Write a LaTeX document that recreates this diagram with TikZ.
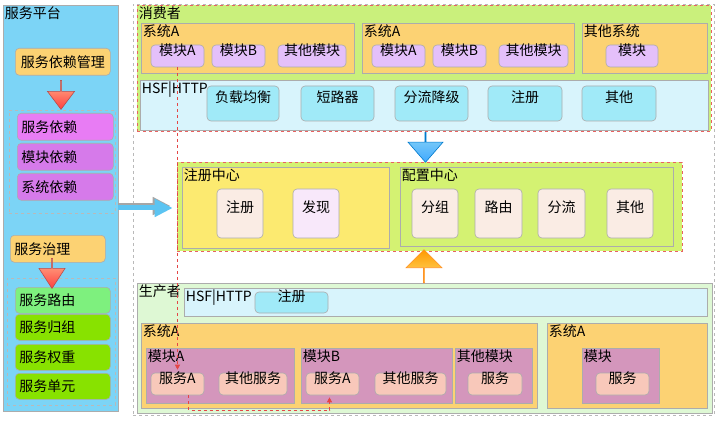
\documentclass[tikz,border=0pt]{standalone}
\usepackage{fontspec}
\setmainfont{Noto Sans CJK SC}
\usetikzlibrary{arrows.meta,positioning,fit,shapes.arrows}

\definecolor{lineGray}{RGB}{172,172,172}
\definecolor{dashGray}{RGB}{185,185,185}
\definecolor{skyPanel}{RGB}{124,212,246}
\definecolor{orangeBox}{RGB}{252,210,115}
\definecolor{magBox}{RGB}{232,124,244}
\definecolor{magBoxB}{RGB}{214,122,234}
\definecolor{mintBox}{RGB}{126,240,126}
\definecolor{limeBox}{RGB}{136,226,0}
\definecolor{consGreen}{RGB}{202,240,124}
\definecolor{ctrGreen}{RGB}{212,242,114}
\definecolor{hsfBlue}{RGB}{216,244,252}
\definecolor{cyanBtn}{RGB}{160,234,248}
\definecolor{lavBox}{RGB}{228,192,250}
\definecolor{regYellow}{RGB}{252,234,112}
\definecolor{peachBox}{RGB}{250,236,228}
\definecolor{lilacBox}{RGB}{248,232,250}
\definecolor{prodGreen}{RGB}{222,248,212}
\definecolor{plumBox}{RGB}{212,150,188}
\definecolor{salmonBox}{RGB}{248,200,186}
\definecolor{dashRed}{RGB}{228,70,70}
\definecolor{arrowBlue}{RGB}{92,196,242}

\newcommand\areabox[7]{\node[#1, fit={(#3,#4) (#5,#6)}] (#2) {#7};}

\begin{document}
\begin{tikzpicture}[
  x=1pt, y=-1pt,
  font=\fontsize{14}{16}\selectfont,
  blk/.style={draw=lineGray, line width=0.6pt, inner sep=0pt},
  btn/.style={blk, rounded corners=4pt},
  ttl/.style={anchor=north west, inner sep=2pt, font=\fontsize{14}{16}\selectfont},
  grp/.style={draw=dashGray, dashed, line width=0.7pt, inner sep=0pt},
  listbox/.style={btn, anchor=north west, inner xsep=4pt, align=left},
  redgrp/.style={draw=dashRed!85, dashed, line width=0.7pt, inner sep=0pt},
  blockarr/.style={single arrow, inner sep=0pt, line width=0.6pt},
  redpath/.style={draw=dashRed, dashed, line width=0.8pt,
    -{Triangle[length=5pt,width=5pt]}},
]
\useasboundingbox (0,0) rectangle (720,422);

% service platform
\areabox{blk, fill=skyPanel, label={[ttl]north west:服务平台}}{plat}{3}{5}{118}{411}{}
\node[listbox, fill=orangeBox, text width=87pt, minimum height=27pt, align=center]
  (depm) at (15,48) {服务依赖管理};
\areabox{grp}{depg}{9}{110}{115}{213}{}
\node[listbox, fill=magBox, text width=88pt, minimum height=27pt] (dsvc) at (17,113) {服务依赖};
\node[listbox, fill=magBoxB, text width=88pt, minimum height=27pt] (dmod) at (17,143) {模块依赖};
\node[listbox, fill=magBoxB, text width=88pt, minimum height=27pt] (dsys) at (17,173) {系统依赖};
\node[blockarr, top color=red!30!orange!45, bottom color=red!75!white, draw=red!60!black!70,
  shape border rotate=270, minimum height=29pt, minimum width=27pt,
  single arrow head extend=7pt, single arrow tip angle=74] (depa) at (61,94.5) {};

\node[listbox, fill=orangeBox, text width=87pt, minimum height=27pt] (gov) at (10,235) {服务治理};
\areabox{grp}{govg}{7}{278}{115}{405}{}
\node[listbox, fill=mintBox, text width=87pt, minimum height=26pt] (groute) at (15,287) {服务路由};
\node[listbox, fill=limeBox, text width=87pt, minimum height=26pt] (ggroup) at (15,314) {服务归组};
\node[listbox, fill=limeBox, text width=87pt, minimum height=26pt] (gweight) at (15,344) {服务权重};
\node[listbox, fill=limeBox, text width=87pt, minimum height=26pt] (gunit) at (15,373) {服务单元};
\node[blockarr, top color=red!30!orange!45, bottom color=red!75!white, draw=red!60!black!70,
  shape border rotate=270, minimum height=30pt, minimum width=26pt,
  single arrow head extend=6.5pt, single arrow tip angle=66] (gova) at (52,273) {};

% right side
\areabox{grp}{rightg}{133}{4}{714}{415}{}

% consumer
\areabox{redgrp, fill=consGreen, label={[ttl]north west:消费者}}{cons}{137}{5}{711}{131}{}
\areabox{blk, fill=orangeBox, label={[ttl]north west:系统A}}{csa}{141}{23}{354}{73}{}
\areabox{btn, fill=lavBox}{csaa}{151}{45}{204}{67}{模块A}
\areabox{btn, fill=lavBox}{csab}{212}{45}{265}{67}{模块B}
\areabox{btn, fill=lavBox}{csac}{278}{45}{346}{67}{其他模块}
\areabox{blk, fill=orangeBox, label={[ttl]north west:系统A}}{csb}{362}{23}{574}{73}{}
\areabox{btn, fill=lavBox}{csba}{372}{45}{425}{67}{模块A}
\areabox{btn, fill=lavBox}{csbb}{433}{45}{486}{67}{模块B}
\areabox{btn, fill=lavBox}{csbc}{499}{45}{568}{67}{其他模块}
\areabox{blk, fill=orangeBox, label={[ttl]north west:其他系统}}{csc}{582}{23}{707}{73}{}
\areabox{btn, fill=lavBox}{csca}{606}{45}{658}{67}{模块}
\areabox{blk, fill=hsfBlue, label={[ttl]north west:HSF|HTTP}}{chsf}{140}{80}{708}{130}{}
\areabox{btn, fill=cyanBtn}{clb}{207}{86}{279}{121}{负载均衡}
\areabox{btn, fill=cyanBtn}{cbrk}{301}{86}{374}{121}{短路器}
\areabox{btn, fill=cyanBtn}{cdeg}{395}{86}{468}{121}{分流降级}
\areabox{btn, fill=cyanBtn}{creg}{488}{86}{562}{121}{注册}
\areabox{btn, fill=cyanBtn}{coth}{582}{86}{656}{121}{其他}

% registry and config
\areabox{redgrp, fill=ctrGreen}{ctr}{177}{162}{682}{251}{}
\areabox{blk, fill=regYellow, label={[ttl]north west:注册中心}}{reg}{182}{167}{389}{248}{}
\areabox{btn, fill=peachBox}{rreg}{217}{189}{263}{238}{注册}
\areabox{btn, fill=lilacBox}{rdisc}{293}{189}{339}{238}{发现}
\areabox{blk, fill=ctrGreen, label={[ttl]north west:配置中心}}{cfg}{400}{167}{673}{246}{}
\areabox{btn, fill=peachBox}{fgrp}{412}{189}{458}{238}{分组}
\areabox{btn, fill=peachBox}{frte}{475}{189}{522}{238}{路由}
\areabox{btn, fill=peachBox}{fspl}{538}{189}{585}{238}{分流}
\areabox{btn, fill=peachBox}{foth}{607}{189}{653}{238}{其他}

\node[blockarr, top color=arrowBlue!70!white, bottom color=blue!45!cyan!75, draw=blue!40!cyan!80!black,
  shape border rotate=270, minimum height=30pt, minimum width=35pt,
  single arrow head extend=10pt, single arrow tip angle=82] (consa) at (425.5,147) {};

% producer
\areabox{blk, fill=prodGreen, label={[ttl]north west:生产者}}{prod}{137}{283}{712}{413}{}
\areabox{blk, fill=hsfBlue, label={[ttl]north west:HSF|HTTP}}{phsf}{184}{288}{707}{316}{}
\areabox{btn, fill=cyanBtn}{preg}{255}{292}{328}{313}{注册}
\areabox{blk, fill=orangeBox, label={[ttl]north west:系统A}}{psa}{141}{323}{537}{408}{}
\areabox{blk, fill=plumBox, label={[ttl]north west:模块A}}{pma}{146}{348}{294}{403}{}
\areabox{btn, fill=salmonBox}{pmaa}{151}{373}{204}{395}{服务A}
\areabox{btn, fill=salmonBox}{pmab}{219}{373}{287}{395}{其他服务}
\areabox{blk, fill=plumBox, label={[ttl]north west:模块B}}{pmb}{301}{348}{452}{403}{}
\areabox{btn, fill=salmonBox}{pmba}{306}{373}{359}{395}{服务A}
\areabox{btn, fill=salmonBox}{pmbb}{375}{373}{446}{395}{其他服务}
\areabox{blk, fill=plumBox, label={[ttl]north west:其他模块}}{pmc}{455}{348}{532}{403}{}
\areabox{btn, fill=salmonBox}{pmca}{468}{373}{522}{395}{服务}
\areabox{blk, fill=orangeBox, label={[ttl]north west:系统A}}{psb}{547}{323}{707}{408}{}
\areabox{blk, fill=plumBox, label={[ttl]north west:模块}}{pmd}{582}{348}{659}{403}{}
\areabox{btn, fill=salmonBox}{pmda}{596}{373}{649}{395}{服务}

\node[blockarr, top color=orange!80!yellow, bottom color=yellow!60!orange!55, draw=orange!85,
  shape border rotate=90, minimum height=33pt, minimum width=36pt,
  single arrow head extend=9.5pt, single arrow tip angle=90] (proda) at (424,266.5) {};

% platform to registry
\draw[gray!70, line width=5pt, -{Triangle[length=18pt,width=17pt]}, shorten >=6pt]
  ([yshift=2pt]plat.east) -- ([yshift=2pt]plat.east -| ctr.west);
\draw[arrowBlue, line width=5pt, -{Triangle[length=18pt,width=17pt]}, shorten >=4pt]
  (plat.east) -- (plat.east -| ctr.west);

% call path
\draw[redpath, shorten >=3pt] (csaa.south) -- (pmaa.north);
\draw[redpath, shorten >=2pt] ([xshift=11pt]pmaa.south) -- ++(0,15) -| ([xshift=-3pt]pmba.south);
\end{tikzpicture}
\end{document}
